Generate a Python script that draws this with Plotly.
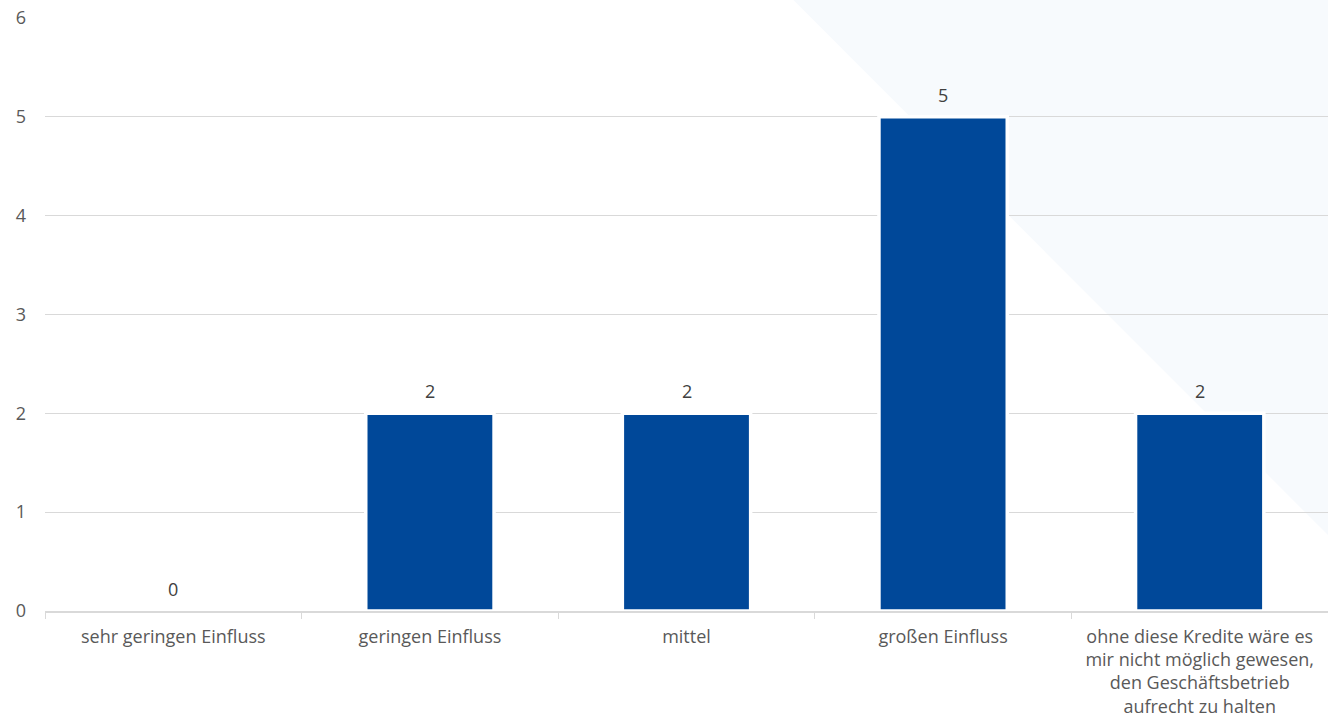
import plotly.graph_objects as go

# Survey answers: influence of the loans on the business
categories = [
    "sehr geringen Einfluss",
    "geringen Einfluss",
    "mittel",
    "großen Einfluss",
    "ohne diese Kredite wäre es<br>mir nicht möglich gewesen,<br>den Geschäftsbetrieb<br>aufrecht zu halten",
]
counts = [0, 2, 2, 5, 2]
y_ticks = [0, 1, 2, 3, 4, 5, 6]

FONT = "Open Sans"
BAR_COLOR = "#004899"
GRID = "#D9D9D9"
TEXT = "#595959"
SIZE = 18

fig = go.Figure()
fig.add_trace(
    go.Bar(
        x=categories,
        y=counts,
        marker=dict(color=BAR_COLOR, line=dict(color="white", width=3.5)),
        hoverinfo="x+y",
    )
)

# value labels above each bar
for cat, val in zip(categories, counts):
    fig.add_annotation(
        x=cat,
        y=val,
        text=str(val),
        showarrow=False,
        yanchor="bottom",
        yshift=8,
        font=dict(family=FONT, size=SIZE, color="#404040"),
    )

# faint decorative triangle in the upper right corner
fig.add_shape(
    type="path",
    xref="paper",
    yref="paper",
    path="M 0.583,1.031 L 1.0,1.031 L 1.0,0.128 Z",
    fillcolor="rgb(247,250,253)",
    line=dict(width=0),
    layer="below",
)

fig.update_layout(
    width=1328,
    height=726,
    margin=dict(l=45, r=0, t=18, b=115),
    paper_bgcolor="white",
    plot_bgcolor="rgba(0,0,0,0)",
    bargap=0.5,
    showlegend=False,
    font=dict(family=FONT, size=SIZE, color=TEXT),
    xaxis=dict(
        showgrid=False,
        showline=True,
        linecolor=GRID,
        linewidth=2,
        ticks="outside",
        tickson="boundaries",
        ticklen=6,
        tickcolor=GRID,
        tickfont=dict(family=FONT, size=SIZE, color=TEXT),
        tickangle=0,
        ticklabelstandoff=8,
    ),
    yaxis=dict(
        range=[0, 6],
        tickvals=y_ticks,
        showgrid=True,
        gridcolor=GRID,
        gridwidth=1.3,
        zeroline=False,
        showline=False,
        ticks="",
        tickfont=dict(family=FONT, size=SIZE, color=TEXT),
        ticklabelstandoff=18,
    ),
)

fig.write_html("out.html")
